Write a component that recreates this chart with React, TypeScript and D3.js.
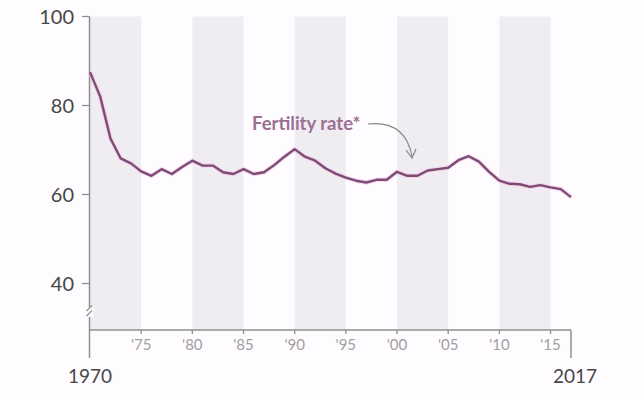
import React from "react";
import * as d3 from "d3";

const years: number[] = [
  1970, 1971, 1972, 1973, 1974, 1975, 1976, 1977, 1978, 1979,
  1980, 1981, 1982, 1983, 1984, 1985, 1986, 1987, 1988, 1989,
  1990, 1991, 1992, 1993, 1994, 1995, 1996, 1997, 1998, 1999,
  2000, 2001, 2002, 2003, 2004, 2005, 2006, 2007, 2008, 2009,
  2010, 2011, 2012, 2013, 2014, 2015, 2016, 2017,
];
const fertility: number[] = [
  87.5, 82.0, 72.6, 68.1, 67.0, 65.2, 64.2, 65.7, 64.6, 66.2,
  67.6, 66.5, 66.5, 65.0, 64.6, 65.7, 64.6, 65.0, 66.6, 68.5,
  70.2, 68.5, 67.6, 65.9, 64.7, 63.8, 63.1, 62.7, 63.3, 63.3,
  65.1, 64.2, 64.2, 65.4, 65.7, 66.0, 67.7, 68.6, 67.4, 65.1,
  63.1, 62.4, 62.3, 61.7, 62.1, 61.6, 61.2, 59.4,
];
const yTicks: number[] = [40, 60, 80, 100];
const xTicks: number[] = [1975, 1980, 1985, 1990, 1995, 2000, 2005, 2010, 2015];
const xTickLabels: string[] = ["'75", "'80", "'85", "'90", "'95", "'00", "'05", "'10", "'15"];
const bandStarts: number[] = [1970, 1980, 1990, 2000, 2010];
const endLabels: string[] = ["1970", "2017"];
const seriesLabel = "Fertility rate*";

const FONT = "Lato, 'Open Sans', sans-serif";

export default function App() {
  const W = 641;
  const H = 393;
  const x = d3.scaleLinear().domain([1970, 2017]).range([90, 571]);
  const y = d3.scaleLinear().domain([40, 100]).range([283.5, 16.5]);
  const axisY = 330;
  const axisX = 89.5;

  const line = d3
    .line<number>()
    .x((_, i) => x(years[i]))
    .y((d) => y(d))
    .curve(d3.curveLinear);

  const pathD = line(fertility) || "";

  return (
    <svg
      width={W}
      height={H}
      style={{ position: "absolute", left: 0, top: 0, background: "#fefcfe" }}
      fontFamily={FONT}
    >
      <rect x={0} y={0} width={W} height={H} fill="#fefcfe" />
      {bandStarts.map((b) => (
        <rect
          key={b}
          x={x(b)}
          y={y(100)}
          width={x(b + 5) - x(b)}
          height={axisY - y(100)}
          fill="#efedf1"
        />
      ))}
      <line x1={axisX} x2={axisX} y1={y(100)} y2={358} stroke="#909090" strokeWidth={1.5} />
      <rect x={axisX - 4} y={307} width={8} height={10} fill="#fefcfe" />
      <line x1={axisX - 3} x2={axisX + 2.5} y1={311} y2={305.5} stroke="#909090" strokeWidth={1.3} />
      <line x1={axisX - 3} x2={axisX + 2.5} y1={316} y2={310.5} stroke="#909090" strokeWidth={1.3} />
      {yTicks.map((t) => (
        <g key={t}>
          <line x1={82} x2={axisX} y1={y(t)} y2={y(t)} stroke="#909090" strokeWidth={1.3} />
          <text x={74} y={y(t)} dy="0.36em" textAnchor="end" fontSize={20} fill="#474747">
            {t}
          </text>
        </g>
      ))}
      <line x1={axisX} x2={571} y1={axisY} y2={axisY} stroke="#909090" strokeWidth={1.5} />
      <line x1={571} x2={571} y1={axisY} y2={358} stroke="#909090" strokeWidth={1.5} />
      {xTicks.map((t, i) => (
        <g key={t}>
          <line x1={x(t)} x2={x(t)} y1={axisY} y2={axisY + 4} stroke="#909090" strokeWidth={1.3} />
          <text x={x(t)} y={350} textAnchor="middle" fontSize={15} fill="#a0a0a0">
            {xTickLabels[i]}
          </text>
        </g>
      ))}
      <text x={x(1970)} y={383} textAnchor="middle" fontSize={19} fill="#474747">
        {endLabels[0]}
      </text>
      <text x={x(2017) + 4} y={383} textAnchor="middle" fontSize={19} fill="#474747">
        {endLabels[1]}
      </text>
      <path d={pathD} fill="none" stroke="#f0c8e4" strokeWidth={4.5} strokeLinejoin="round" opacity={0.6} />
      <path d={pathD} fill="none" stroke="#7f4b74" strokeWidth={2.4} strokeLinejoin="round" />
      <text x={252} y={130} fontSize={18.5} fontWeight={700} fill="#9b7093">
        {seriesLabel}
      </text>
      <path d="M 368 124 Q 405 120 412 156" fill="none" stroke="#888" strokeWidth={1.2} />
      <path d="M 406 150 L 412 158 L 416 149" fill="none" stroke="#888" strokeWidth={1.2} />
    </svg>
  );
}
